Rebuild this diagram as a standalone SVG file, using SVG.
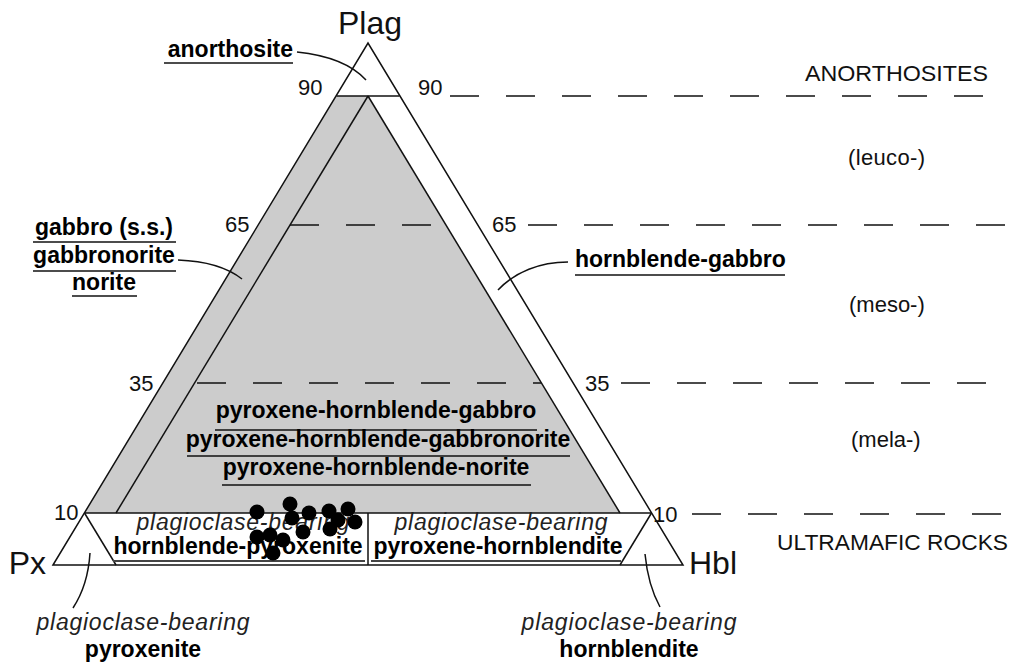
<svg xmlns="http://www.w3.org/2000/svg" width="1019" height="668" viewBox="0 0 1019 668">
<style>
.ln{stroke:#111;stroke-width:1.5;fill:none}
.ul{stroke:#111;stroke-width:1.6}
.ds{stroke:#111;stroke-width:1.5;stroke-dasharray:29 27}
.r{font-family:"Liberation Sans",Arial,sans-serif;font-size:22px;fill:#111}
.big{font-family:"Liberation Sans",Arial,sans-serif;font-size:32px;fill:#111}
.b{font-family:"Liberation Sans",Arial,sans-serif;font-size:23px;font-weight:bold;fill:#000}
.i{font-family:"Liberation Sans",Arial,sans-serif;font-size:23px;font-style:italic;fill:#222}
.dot{fill:#000}
</style>
<rect width="1019" height="668" fill="#fff"/>
<g id="triangle">
<polygon points="336.5,96 368,96 620,513 84.5,513" fill="#cccccc"/>
<polygon class="ln" points="53,565 368,43 683,565"/>
<line class="ln" x1="336.5" y1="96" x2="399.5" y2="96"/>
<line class="ln" x1="84.5" y1="513" x2="651.5" y2="513"/>
<line class="ln" x1="368" y1="96" x2="116" y2="513"/>
<line class="ln" x1="368" y1="96" x2="620" y2="513"/>
<line class="ln" x1="84.5" y1="513" x2="116" y2="565"/>
<line class="ln" x1="651.5" y1="513" x2="620" y2="565"/>
<line class="ln" x1="368" y1="513" x2="368" y2="565"/>
<line x1="113" y1="561" x2="365" y2="561" stroke="#444" stroke-width="1.8"/>
<line x1="371" y1="561" x2="621" y2="561" stroke="#444" stroke-width="1.8"/>
</g>
<g id="dashes">
<line class="ds" x1="450" y1="96" x2="983" y2="96"/>
<line class="ds" x1="290" y1="225" x2="446" y2="225"/>
<line class="ds" x1="528" y1="225" x2="1006" y2="225"/>
<line class="ds" x1="197" y1="383" x2="541" y2="383"/>
<line class="ds" x1="621" y1="383" x2="987" y2="383"/>
<line class="ds" x1="692" y1="514" x2="1001" y2="514"/>
</g>
<g id="vertex-labels">
<text class="big" x="370" y="34" text-anchor="middle">Plag</text>
<text class="big" x="46" y="574" text-anchor="end">Px</text>
<text class="big" x="689" y="574">Hbl</text>
</g>
<g id="scale-labels" class="r">
<text x="298" y="95">90</text>
<text x="418" y="95">90</text>
<text x="225" y="232">65</text>
<text x="492" y="232">65</text>
<text x="129" y="391">35</text>
<text x="585" y="391">35</text>
<text x="54" y="520">10</text>
<text x="653" y="522">10</text>
</g>
<g id="zone-labels" class="r">
<text x="805" y="81" textLength="183" lengthAdjust="spacingAndGlyphs">ANORTHOSITES</text>
<text x="848" y="165" textLength="77">(leuco-)</text>
<text x="849" y="312">(meso-)</text>
<text x="851" y="447">(mela-)</text>
<text x="777" y="550" textLength="231" lengthAdjust="spacingAndGlyphs">ULTRAMAFIC ROCKS</text>
</g>
<g id="leaders">
<path class="ln" d="M297,52 Q345,57 366,80"/>
<path class="ln" d="M178,260 C205,261 228,268 242,279"/>
<path class="ln" d="M568,262 C540,262 515,272 498,290"/>
<path class="ln" d="M90,553 Q88,585 73,608"/>
<path class="ln" d="M645,554 Q648,585 660,607"/>
</g>
<g id="anorthosite">
<text class="b" x="293" y="57" text-anchor="end">anorthosite</text>
<line class="ul" x1="164" y1="63" x2="293" y2="63"/>
</g>
<g id="gabbro">
<text class="b" x="104" y="235" text-anchor="middle">gabbro (s.s.)</text>
<line class="ul" x1="33" y1="242" x2="176" y2="242"/>
<text class="b" x="104" y="263" text-anchor="middle">gabbronorite</text>
<line class="ul" x1="33" y1="271" x2="176" y2="271"/>
<text class="b" x="104" y="290" text-anchor="middle">norite</text>
<line class="ul" x1="72" y1="296" x2="137" y2="296"/>
</g>
<g id="hornblende-gabbro">
<text class="b" x="575" y="267">hornblende-gabbro</text>
<line class="ul" x1="575" y1="275" x2="785" y2="275"/>
</g>
<g id="px-hbl-gabbro">
<text class="b" x="376" y="418" text-anchor="middle">pyroxene-hornblende-gabbro</text>
<line class="ul" x1="215" y1="430" x2="537" y2="430"/>
<text class="b" x="378" y="447" text-anchor="middle">pyroxene-hornblende-gabbronorite</text>
<line class="ul" x1="187" y1="456" x2="570" y2="456"/>
<text class="b" x="376" y="475" text-anchor="middle">pyroxene-hornblende-norite</text>
<line class="ul" x1="222" y1="485" x2="531" y2="485"/>
</g>
<g id="hbl-pyroxenite">
<text class="i" x="243" y="530" text-anchor="middle" textLength="213">plagioclase-bearing</text>
<text class="b" x="238" y="554" text-anchor="middle">hornblende-pyroxenite</text>
</g>
<g id="px-hornblendite">
<text class="i" x="501" y="530" text-anchor="middle" textLength="213">plagioclase-bearing</text>
<text class="b" x="498" y="554" text-anchor="middle">pyroxene-hornblendite</text>
</g>
<g id="pyroxenite">
<text class="i" x="143" y="630" text-anchor="middle" textLength="213">plagioclase-bearing</text>
<text class="b" x="143" y="657" text-anchor="middle">pyroxenite</text>
</g>
<g id="hornblendite">
<text class="i" x="629" y="630" text-anchor="middle" textLength="215">plagioclase-bearing</text>
<text class="b" x="629" y="657" text-anchor="middle">hornblendite</text>
</g>
<g id="samples">
<circle class="dot" cx="257" cy="512" r="7.5"/>
<circle class="dot" cx="290" cy="504" r="7.5"/>
<circle class="dot" cx="309" cy="513" r="7.5"/>
<circle class="dot" cx="329" cy="511" r="7.5"/>
<circle class="dot" cx="348" cy="509" r="7.5"/>
<circle class="dot" cx="355" cy="522" r="7.5"/>
<circle class="dot" cx="338" cy="520" r="7.5"/>
<circle class="dot" cx="330" cy="529" r="7.5"/>
<circle class="dot" cx="303" cy="532" r="7.5"/>
<circle class="dot" cx="292" cy="518" r="7.5"/>
<circle class="dot" cx="257" cy="537" r="7.5"/>
<circle class="dot" cx="270" cy="535" r="7.5"/>
<circle class="dot" cx="283" cy="540" r="7.5"/>
<circle class="dot" cx="273" cy="553" r="7.5"/>
</g>
</svg>
